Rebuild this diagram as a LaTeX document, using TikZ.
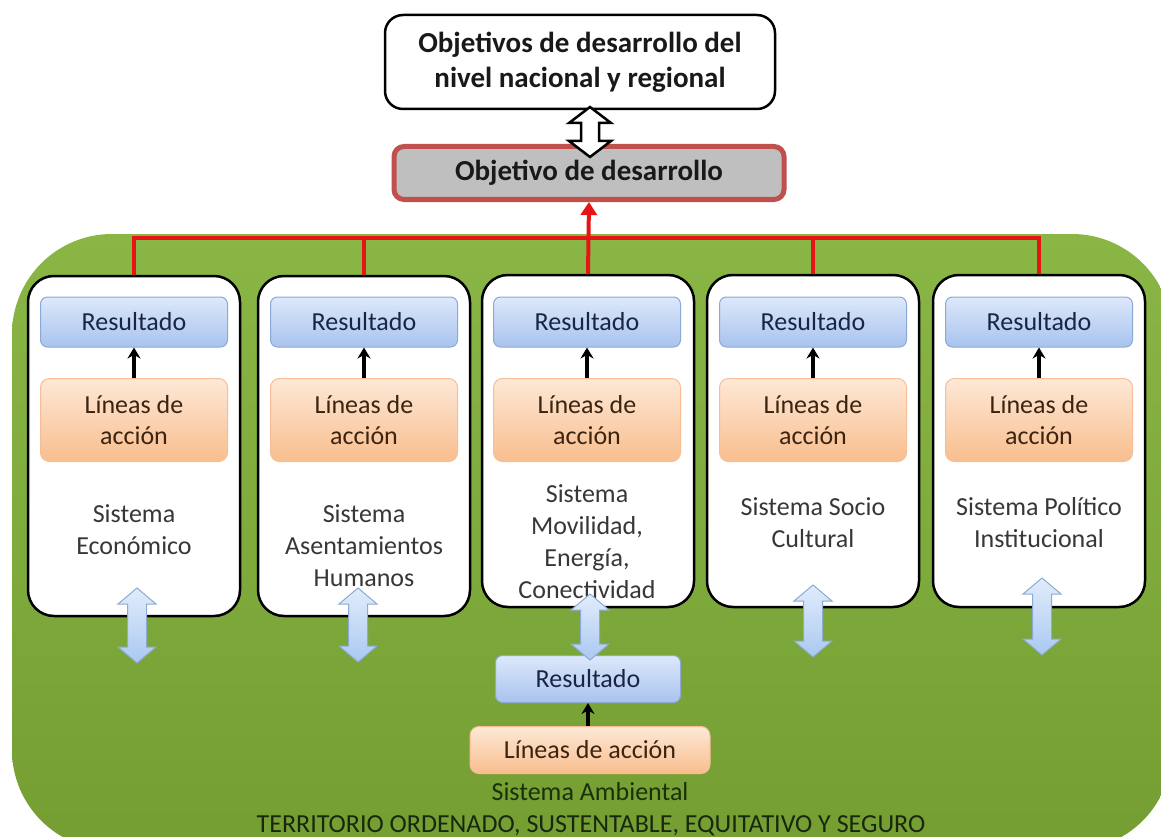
\documentclass[tikz,border=0pt]{standalone}
\usepackage{fontspec}
\setmainfont{Carlito}
\usetikzlibrary{arrows.meta}
\definecolor{gtop}{RGB}{138,182,70}
\definecolor{gbot}{RGB}{116,158,50}
\definecolor{rtop}{RGB}{221,232,250}
\definecolor{rbot}{RGB}{168,195,238}
\definecolor{rbord}{RGB}{140,168,215}
\definecolor{rtext}{RGB}{25,36,72}
\definecolor{ltop}{RGB}{253,232,214}
\definecolor{lbot}{RGB}{249,190,142}
\definecolor{lbord}{RGB}{245,190,150}
\definecolor{ltext}{RGB}{60,36,16}
\definecolor{systext}{RGB}{55,55,55}
\definecolor{objfill}{RGB}{191,191,191}
\definecolor{objbord}{RGB}{192,80,77}
\definecolor{redline}{RGB}{230,20,20}
\definecolor{abtop}{RGB}{225,236,252}
\definecolor{abbot}{RGB}{170,200,240}
\definecolor{abbord}{RGB}{140,170,210}
\definecolor{ambtext}{RGB}{22,50,10}
\definecolor{tertext}{RGB}{24,40,12}
\newcommand{\vblock}[4]{% x, ytop, ybottom, style
  \path[#4] (#1,#2) -- (#1+19,#2+16) -- (#1+9.5,#2+16) -- (#1+9.5,#3-16) -- (#1+19,#3-16)
    -- (#1,#3) -- (#1-19,#3-16) -- (#1-9.5,#3-16) -- (#1-9.5,#2+16) -- (#1-19,#2+16) -- cycle;}
\tikzset{
  sysbox/.style={draw=black, line width=2.5pt, fill=white, rounded corners=26pt, minimum width=212pt, minimum height=336pt, inner sep=0pt},
  resbox/.style={draw=rbord, line width=1pt, top color=rtop, bottom color=rbot, rounded corners=7pt, minimum width=187pt, minimum height=50pt, inner sep=0pt, text=rtext, font=\fontsize{26}{30}\selectfont},
  linbox/.style={draw=lbord, line width=1pt, top color=ltop, bottom color=lbot, rounded corners=9pt, minimum width=187pt, minimum height=83pt, inner sep=0pt, text=ltext, align=center, font=\fontsize{26}{31}\selectfont},
  systxt/.style={text=systext, align=center, font=\fontsize{26}{32}\selectfont},
  smallarrow/.style={draw=black, line width=3.5pt, -{Stealth[length=11pt,width=13pt]}},
  redconn/.style={draw=redline, line width=4pt},
  bluearrow/.style={draw=abbord, line width=1pt, top color=abtop, bottom color=abbot},
  hollowarrow/.style={draw=black, line width=2.5pt, fill=white, line join=miter},
}
\begin{document}
\begin{tikzpicture}[x=1pt,y=-1pt]
\clip (0,0) rectangle (1161,837);
\fill[white] (0,0) rectangle (1161,837);
% green territory
\path[top color=gtop, bottom color=gbot, rounded corners=100pt] (12,234) rectangle (1172,850);
% top boxes
\node[draw=black, line width=2.5pt, fill=white, rounded corners=18pt, minimum width=390pt, minimum height=94pt, align=center, font=\bfseries\fontsize{29}{35}\selectfont, text=black!90] (nat) at (580,62) {Objetivos de desarrollo del\\nivel nacional y regional};
\node[draw=objbord, line width=5pt, fill=objfill, rounded corners=10pt, minimum width=390pt, minimum height=53pt, font=\bfseries\fontsize{29}{30}\selectfont, text=black!90] (obj) at (589,173) {Objetivo de desarrollo};
% hollow double arrow
\path[hollowarrow] (590,107) -- (611,123) -- (599,123) -- (599,141) -- (611,141) -- (590,157) -- (569,141) -- (581,141) -- (581,123) -- (569,123) -- cycle;
% system boxes
\node[sysbox, minimum height=340pt] (s1) at (134,446) {};
\node[sysbox, minimum height=340pt] (s2) at (364,446) {};
\node[sysbox, minimum height=332pt] (s3) at (588,441) {};
\node[sysbox, minimum height=332pt] (s4) at (813,441) {};
\node[sysbox, minimum height=332pt] (s5) at (1039,441) {};
% red connectors
\coordinate (hub) at (590,238);
\draw[redconn] (s1.north) -- (s1.north |- hub) -- (s5.north |- hub) -- (s5.north);
\draw[redconn] (s2.north) -- (s2.north |- hub);
\draw[redconn] (s4.north) -- (s4.north |- hub);
\draw[redconn, -{Triangle[length=13pt,width=16pt]}] (s3.north) -- (obj.south);
% inner boxes
\foreach \i/\x in {1/134,2/364,3/587,4/813,5/1039}{
  \node[resbox] (r\i) at (\x,322) {Resultado};
  \node[linbox] (l\i) at (\x,420) {Líneas de\\acción};
  \draw[smallarrow] (l\i.north) -- (r\i.south);
}
% system labels
\node[systxt] (t1) at (134,530) {Sistema\\Económico};
\node[systxt] (t2) at (364,546) {Sistema\\Asentamientos\\Humanos};
\node[systxt] (t3) at (587,542) {Sistema\\Movilidad,\\Energía,\\Conectividad};
\node[systxt] (t4) at (813,523) {Sistema Socio\\Cultural};
\node[systxt] (t5) at (1039,523) {Sistema Político\\Institucional};
% environmental system
\node[resbox, minimum width=185pt, minimum height=47pt] (ra) at (588,679) {Resultado};
\node[linbox, minimum width=240pt, minimum height=47pt] (la) at (590,750) {Líneas de acción};
\draw[smallarrow] (la.north -| ra.south) -- (ra.south);
% blue double arrows
\vblock{137}{588}{663}{bluearrow}
\vblock{358}{588}{662}{bluearrow}
\vblock{590}{594}{660}{bluearrow}
\vblock{813}{585}{657}{bluearrow}
\vblock{1042}{578}{655}{bluearrow}
\node[anchor=base, text=ambtext, font=\fontsize{26}{30}\selectfont] (amb) at (590,800) {Sistema Ambiental};
\node[anchor=base, text=tertext, font=\fontsize{26}{30}\selectfont] (ter) at (591,832) {TERRITORIO ORDENADO, SUSTENTABLE, EQUITATIVO Y SEGURO};
\end{tikzpicture}
\end{document}
